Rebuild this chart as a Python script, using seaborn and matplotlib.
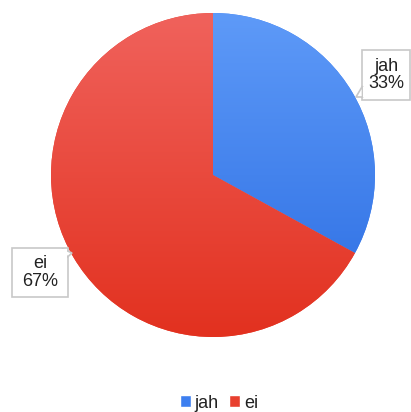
import numpy as np
import matplotlib
matplotlib.use("Agg")
import matplotlib.pyplot as plt
import seaborn as sns
from matplotlib.colors import LinearSegmentedColormap
from matplotlib.patches import Polygon, Rectangle

categories = ["jah", "ei"]
values = [33, 67]
pct_labels = ["33%", "67%"]

sns.set_theme(style="white")
plt.rcParams['font.family'] = ['Liberation Sans', 'DejaVu Sans']

base_colors = ["#3d7ff0", "#e8402f"]
grad = [("#5e9af8", "#2a6ce2"), ("#f0625c", "#e2311f")]

fig = plt.figure(figsize=(4.11, 4.12), dpi=100)
ax = fig.add_axes([0, 0, 1, 1])

cx, cy, r = 213, 412 - 175, 162
wedges, _ = ax.pie(values, colors=base_colors, startangle=90, counterclock=False,
                   center=(cx, cy), radius=r, frame=True,
                   wedgeprops=dict(linewidth=0))
ax.set_xlim(0, 411)
ax.set_ylim(0, 412)
ax.axis("off")

ramp = np.linspace(0, 1, 256).reshape(-1, 1)
for w, (c_top, c_bot) in zip(wedges, grad):
    cmap = LinearSegmentedColormap.from_list("g", [c_top, c_bot])
    im = ax.imshow(ramp, cmap=cmap, aspect="auto",
                   extent=(cx - r, cx + r, cy - r, cy + r), origin="upper", zorder=2)
    im.set_clip_path(w)
ax.set_xlim(0, 411)
ax.set_ylim(0, 412)

# callouts
def callout(x0, y0, x1, y1, notch, text):
    rect = Rectangle((x0, 412 - y1), x1 - x0, y1 - y0, facecolor="white",
                     edgecolor="#c8c8c8", linewidth=1.2, zorder=5)
    ax.add_patch(rect)
    poly = Polygon([(x, 412 - y) for x, y in notch], closed=True, facecolor="white",
                   edgecolor="#c8c8c8", linewidth=1.2, zorder=5)
    ax.add_patch(poly)
    ax.text((x0 + x1) / 2, 412 - (y0 + y1) / 2, text, ha="center", va="center",
            fontsize=13, color="#222222", linespacing=1.0, zorder=7)

callout(362, 50, 410, 100, [(362.5, 86), (356, 97), (362.5, 97)],
        f"{categories[0]}\n{pct_labels[0]}")
callout(12, 248, 68, 297, [(62, 248.5), (72, 253), (67.5, 257)],
        f"{categories[1]}\n{pct_labels[1]}")
ax.add_patch(Rectangle((363, 412 - 96.5), 6, 10, facecolor="white", edgecolor="none", zorder=6))
ax.add_patch(Rectangle((60, 412 - 258), 7.4, 9.3, facecolor="white", edgecolor="none", zorder=6))

# legend
handles = [Rectangle((0, 0), 1, 1, facecolor=c) for c in base_colors]
leg = ax.legend(handles, categories, loc="center", bbox_to_anchor=(219, 412 - 403),
                bbox_transform=ax.transData, ncol=2, frameon=False, fontsize=13,
                handlelength=0.6, handleheight=0.6, handletextpad=0.2, columnspacing=0.6)
for t in leg.get_texts():
    t.set_color("#222222")

fig.savefig("out.png", dpi=100)
